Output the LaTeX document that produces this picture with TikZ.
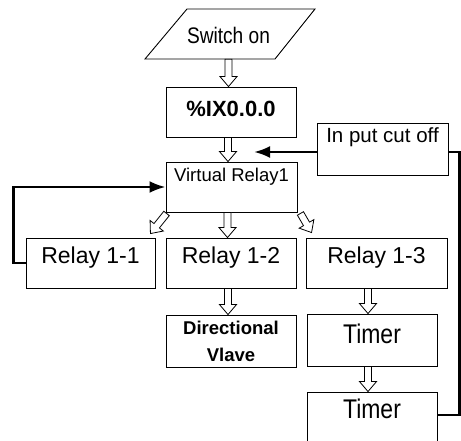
\documentclass[tikz,border=0pt]{standalone}
\usepackage{fontspec}
\setmainfont{Liberation Sans}
\newfontfamily\condfont{Liberation Sans}[FakeStretch=0.85]
\usetikzlibrary{calc,arrows.meta}
\tikzset{
  box/.style={draw, line width=0.9pt, inner sep=0pt, minimum width=130pt, minimum height=50pt},
  plain/.style={inner sep=0pt},
  outline/.style={draw, line width=0.9pt, line join=miter},
  hollow/.style={draw, line width=0.8pt, fill=white, line join=miter},
  fb/.style={line width=2.6pt, line join=miter},
  fbarrow/.style={fb, -{Latex[length=16pt,width=12pt]}},
  relayfont/.style={font=\fontsize{23}{23}\selectfont},
  timerfont/.style={font=\condfont\fontsize{27}{27}\selectfont},
}
\newcommand\hollowarrow[2]{%
  \coordinate (hA) at #1; \coordinate (hB) at #2;
  \coordinate (hQ) at ($(hB)!10pt!(hA)$);
  \path[hollow] ($(hA)!3.5pt!90:(hB)$) -- ($(hQ)!3.5pt!-90:(hA)$) -- ($(hQ)!8.5pt!-90:(hA)$)
     -- (hB) -- ($(hQ)!8.5pt!90:(hA)$) -- ($(hQ)!3.5pt!90:(hA)$) -- ($(hA)!3.5pt!-90:(hB)$) -- cycle;}
\begin{document}
\begin{tikzpicture}[x=1pt,y=-1pt]
\useasboundingbox (0,0) rectangle (461,441);
% parallelogram
\draw[outline] (187,9) -- (315,9) -- (275,59) -- (145,59) -- cycle;
\node[plain, minimum height=50pt, text height=35pt, text depth=15pt, font=\condfont\fontsize{22.5}{22.5}\selectfont] (sw) at (228.5,34) {Switch on};
% boxes
\node[box, text height=30pt, text depth=20pt, font=\bfseries\fontsize{22}{22}\selectfont] (ix) at (231,112) {\%IX0.0.0};
\node[box, minimum width=131pt, text height=20pt, text depth=30pt, font=\fontsize{18.5}{18.5}\selectfont] (vr) at (231.5,187) {Virtual Relay1};
\node[box, minimum width=131pt, minimum height=52pt, text height=20pt, text depth=32pt, font=\fontsize{20.5}{20.5}\selectfont] (ic) at (382.5,149) {In put cut off};
\node[box, minimum width=129pt, text height=25pt, text depth=25pt, relayfont] (r1) at (90.5,263) {Relay 1-1};
\node[box, text height=25pt, text depth=25pt, relayfont] (r2) at (231,263) {Relay 1-2};
\node[box, minimum width=141pt, text height=25pt, text depth=25pt, relayfont] (r3) at (376.5,263) {Relay 1-3};
\node[box, minimum height=52pt, align=center, font=\bfseries\fontsize{18.5}{27}\selectfont] (dv) at (231,341) {Directional\\Vlave};
\node[box, minimum height=52pt, text height=29pt, text depth=23pt, timerfont] (t1) at (372,340) {Timer};
\node[box, minimum height=58pt, text height=26pt, text depth=32pt, timerfont] (t2) at (372,421) {Timer};
% hollow arrows
\hollowarrow{(sw.south)}{(sw.south |- ix.north)}
\hollowarrow{([xshift=-3pt]ix.south)}{([xshift=-3pt]ix.south |- vr.north)}
\hollowarrow{([xshift=-4pt]vr.south)}{([xshift=-4pt]vr.south |- r2.north)}
\hollowarrow{([shift={(1,1)}]vr.south west)}{([shift={(-5,-4)}]r1.north east)}
\hollowarrow{([shift={(3,1)}]vr.south east)}{([shift={(6,-5)}]r3.north west)}
\hollowarrow{([xshift=-3pt]r2.south)}{([xshift=-3pt]r2.south |- dv.north)}
\hollowarrow{([xshift=-4pt]t1.north |- r3.south)}{([xshift=-4pt]t1.north)}
\hollowarrow{([xshift=-4pt]t1.south)}{([xshift=-4pt]t2.north)}
% feedback lines
\coordinate (icin) at (254,152);
\draw[fbarrow] ([yshift=-3pt]ic.west) -- (icin);
\draw[fb] ([yshift=6pt]t2.east) -- ++(22,0) |- ([yshift=-3pt]ic.east);
\draw[fbarrow] (r1.west) -- ++(-12,0) |- (vr.west);
\end{tikzpicture}
\end{document}
